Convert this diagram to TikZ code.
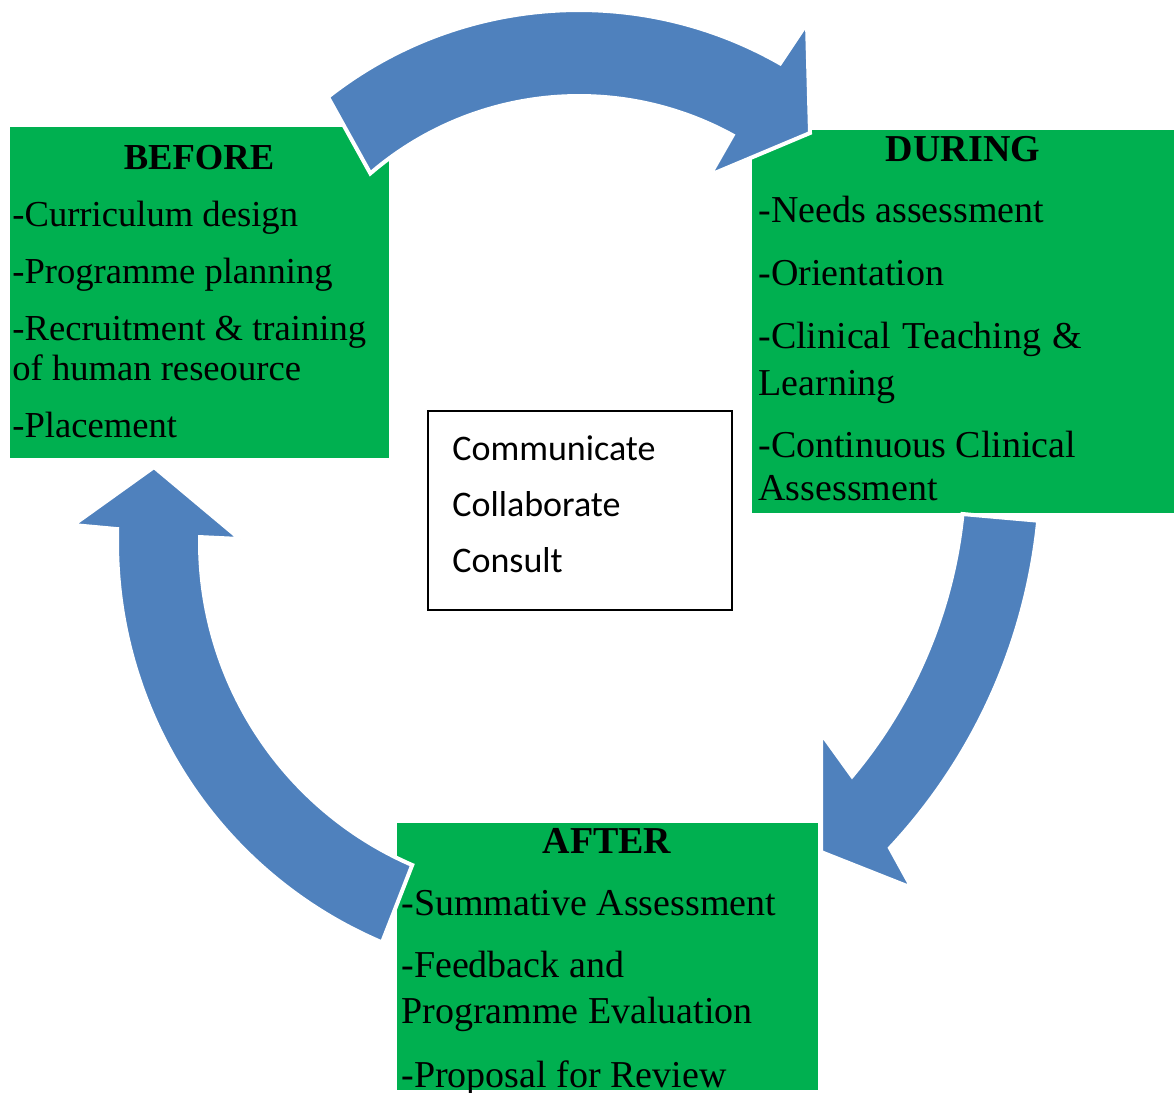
\documentclass[tikz,border=0pt]{standalone}
\usepackage{fontspec}
\setmainfont{Liberation Serif}
\newfontfamily\calibrifont{Carlito}
\usetikzlibrary{calc}
\definecolor{boxgreen}{HTML}{00B050}
\definecolor{arrowblue}{HTML}{4F81BD}
\tikzset{
  greenbox/.style={fill=boxgreen, draw=none, inner sep=0pt, outer sep=0pt, anchor=north west},
  txt/.style={inner sep=0pt, anchor=base west, font=\fontsize{19}{22}\selectfont},
  txtb/.style={inner sep=0pt, anchor=base west, font=\fontsize{18.3}{22}\selectfont},
  headtxt/.style={inner sep=0pt, anchor=base, font=\fontsize{19}{22}\selectfont\bfseries},
  headtxtb/.style={inner sep=0pt, anchor=base, font=\fontsize{18.3}{22}\selectfont\bfseries},
  ctxt/.style={inner sep=0pt, anchor=base west, font=\calibrifont\fontsize{18}{22}\selectfont},
  bigarrow/.style={fill=arrowblue, draw=white, line width=2pt, line join=miter, miter limit=3},
}
\begin{document}
\begin{tikzpicture}[x=0.5pt, y=-0.5pt]
\useasboundingbox (0,0) rectangle (1174,1093);

% boxes
\node (before) [greenbox, minimum width=189.5pt, minimum height=165.5pt] at (10,127) {};
\node (during) [greenbox, minimum width=211pt, minimum height=191.5pt] at (752,130) {};
\node (after)  [greenbox, minimum width=210.5pt, minimum height=133.5pt] at (397,823) {};
\node (center) [draw=black, line width=1pt, fill=white, inner sep=0pt, anchor=north west,
  minimum width=152pt, minimum height=99.5pt] at (427,410) {};

% arrow centres
\coordinate (cT) at (579,416);
\coordinate (cR) at (480,465);
\coordinate (cL) at (552,542);

% top arrow: BEFORE -> DURING
\filldraw[bigarrow] ($(cT)+(-128.2:406)$) arc[start angle=-128.2, end angle=-60.3, radius=406]
  -- (807,23) -- (810,133) -- (710,175) -- ($(cT)+(-61.3:320)$)
  arc[start angle=-61.3, end angle=-130.7, radius=320] -- cycle;

% right arrow: DURING -> AFTER
\filldraw[bigarrow] ($(cR)+(5.7:561)$) arc[start angle=5.7, end angle=43.05, radius=561]
  -- (912,888) -- (821,852) -- (821,733) -- ($(cR)+(39.9:485)$)
  arc[start angle=39.9, end angle=5.8, radius=485] -- cycle;

% left arrow: AFTER -> BEFORE
\filldraw[bigarrow] ($(cL)+(113:435)$) arc[start angle=113, end angle=181.7, radius=435]
  -- (73,525) -- (154,467) -- (240,539) -- ($(cL)+(180.8:352)$)
  arc[start angle=180.8, end angle=113.4, radius=352] -- cycle;

% BEFORE text
\node (bh) [headtxtb] at (199,169) {BEFORE};
\node (b1) [txtb] at (12,226) {-Curriculum design};
\node (b2) [txtb] at (12,283) {-Programme planning};
\node (b3) [txtb] at (12,340) {-Recruitment \& training};
\node (b4) [txtb] at (12,380) {of human reseource};
\node (b5) [txtb] at (12,437) {-Placement};

% DURING text
\node (dh) [headtxt] at (963,161) {DURING};
\node (d1) [txt] at (758,222) {-Needs assessment};
\node (d2) [txt] at (758,285) {-Orientation};
\node (d3) [txt] at (758,348) {\makebox[162pt][s]{-Clinical Teaching \&}};
\node (d4) [txt] at (758,395) {Learning};
\node (d5) [txt] at (758,457) {-Continuous Clinical};
\node (d6) [txt] at (758,500) {Assessment};

% AFTER text
\node (ah) [headtxt] at (607,853) {AFTER};
\node (a1) [txt] at (401,915) {-Summative Assessment};
\node (a2) [txt] at (401,977) {-Feedback and};
\node (a3) [txt] at (401,1023) {Programme Evaluation};
\node (a4) [txt] at (401,1087) {-Proposal for Review};

% centre text
\node (c1) [ctxt] at (452,460) {Communicate};
\node (c2) [ctxt] at (452,516) {Collaborate};
\node (c3) [ctxt] at (452,572) {Consult};
\end{tikzpicture}
\end{document}
